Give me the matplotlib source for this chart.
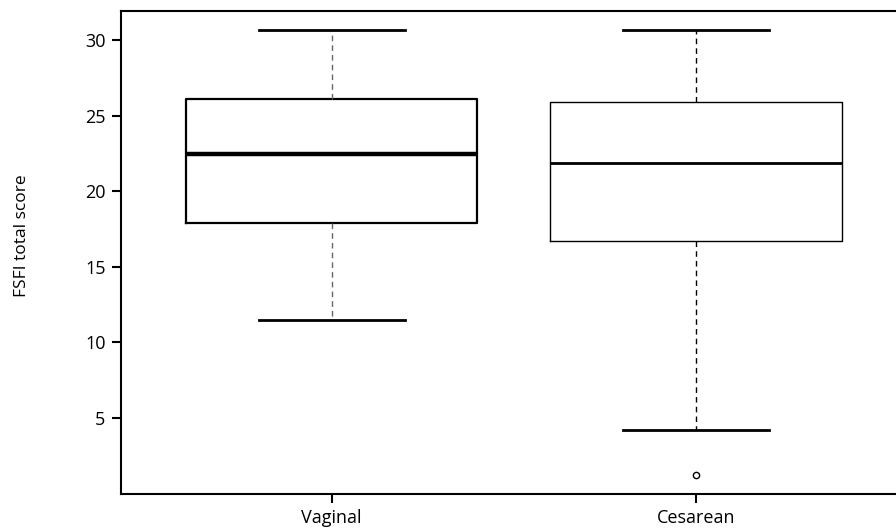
import matplotlib
matplotlib.use("Agg")
import matplotlib.pyplot as plt

# Summary statistics
groups = ["Vaginal", "Cesarean"]
whisker_low = [11.5, 4.2]
q1 = [17.9, 16.7]
median = [22.5, 21.9]
q3 = [26.1, 25.9]
whisker_high = [30.7, 30.7]
outliers = [[], [1.2]]

y_ticks = [5, 10, 15, 20, 25, 30]

plt.rcParams["font.family"] = ["Open Sans", "DejaVu Sans"]

stats = []
for i, name in enumerate(groups):
    stats.append(dict(label=name, whislo=whisker_low[i], q1=q1[i], med=median[i],
                      q3=q3[i], whishi=whisker_high[i], fliers=outliers[i]))

fig = plt.figure(figsize=(8.96, 5.30), dpi=100)
ax = fig.add_axes([0.1356, 0.068, 0.869, 0.9115])

parts = ax.bxp(stats, positions=[1, 2], widths=0.8, showfliers=True,
               boxprops=dict(color="black"),
               whiskerprops=dict(color="black", linestyle=(0, (4, 3)), linewidth=1.0),
               capprops=dict(color="black", linewidth=2.0),
               medianprops=dict(color="black"),
               flierprops=dict(marker="o", markersize=4.5, markerfacecolor="white",
                               markeredgecolor="black", markeredgewidth=1.0),
               capwidths=0.4)

# the first box is drawn heavier than the second one
box_lw = [1.6, 1.0]
med_lw = [3.2, 2.0]
whisk_col = ["#666666", "black"]
for i in range(len(groups)):
    parts["boxes"][i].set_linewidth(box_lw[i])
    parts["medians"][i].set_linewidth(med_lw[i])
    for w in parts["whiskers"][2 * i:2 * i + 2]:
        w.set_color(whisk_col[i])

ax.set_xlim(0.423, 2.56)
ax.set_ylim(-0.05, 31.95)
ax.set_yticks(y_ticks)
ax.set_xticks([1, 2])
ax.set_xticklabels(groups)

for s in ax.spines.values():
    s.set_linewidth(1.5)
ax.tick_params(axis="both", direction="out", length=6.5, width=1.5, labelsize=13)
ax.tick_params(axis="y", pad=5)
ax.tick_params(axis="x", pad=4)

ax.set_ylabel("FSFI total score", fontsize=12.5)
ax.yaxis.set_label_coords(-0.118, 0.535)

fig.savefig("out.png", dpi=100)
